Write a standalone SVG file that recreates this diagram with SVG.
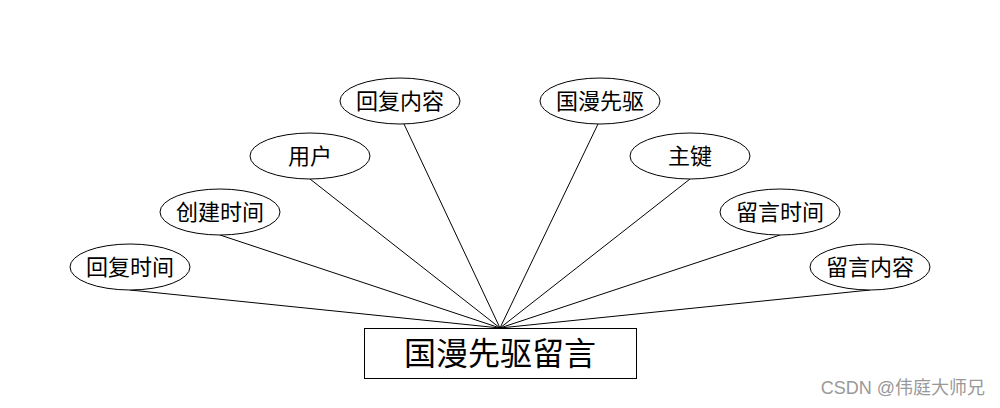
<svg xmlns="http://www.w3.org/2000/svg" width="1000" height="408" viewBox="0 0 1000 408">
<style>
.attr ellipse{fill:#fff;stroke:#000;stroke-width:1}
.lbl{font-family:"Noto Sans CJK SC","Microsoft YaHei",sans-serif;font-size:22px;fill:#000;text-anchor:middle;dominant-baseline:central}
.ent rect{fill:#fff;stroke:#000;stroke-width:1}
.big{font-family:"Noto Sans CJK SC",sans-serif;font-size:32px;fill:#000;text-anchor:middle;dominant-baseline:central}
#connectors line{stroke:#000;stroke-width:1}
</style>
<rect width="1000" height="408" fill="#fff"/>
<g id="connectors">
<line x1="130" y1="290" x2="500" y2="328"/>
<line x1="220" y1="235" x2="500" y2="328"/>
<line x1="310" y1="179" x2="500" y2="328"/>
<line x1="404" y1="124" x2="500" y2="328"/>
<line x1="598" y1="124" x2="500" y2="328"/>
<line x1="690" y1="179" x2="500" y2="328"/>
<line x1="780" y1="235" x2="500" y2="328"/>
<line x1="870" y1="290" x2="500" y2="328"/>
</g>
<g id="n1" class="attr"><ellipse cx="130" cy="267" rx="60" ry="23"/><text class="lbl" x="130" y="265">回复时间</text></g>
<g id="n2" class="attr"><ellipse cx="220" cy="212" rx="60" ry="23"/><text class="lbl" x="220" y="210">创建时间</text></g>
<g id="n3" class="attr"><ellipse cx="310" cy="156" rx="60" ry="23"/><text class="lbl" x="310" y="154">用户</text></g>
<g id="n4" class="attr"><ellipse cx="400" cy="101" rx="60" ry="23"/><text class="lbl" x="400" y="99">回复内容</text></g>
<g id="n5" class="attr"><ellipse cx="600" cy="101" rx="60" ry="23"/><text class="lbl" x="600" y="99">国漫先驱</text></g>
<g id="n6" class="attr"><ellipse cx="690" cy="156" rx="60" ry="23"/><text class="lbl" x="690" y="154">主键</text></g>
<g id="n7" class="attr"><ellipse cx="780" cy="212" rx="60" ry="23"/><text class="lbl" x="780" y="210">留言时间</text></g>
<g id="n8" class="attr"><ellipse cx="870" cy="267" rx="60" ry="23"/><text class="lbl" x="870" y="265">留言内容</text></g>
<g id="entity" class="ent"><rect x="364.5" y="328.5" width="272" height="50"/><text class="big" x="500" y="351">国漫先驱留言</text></g>
<text x="985" y="388" font-family="'Liberation Sans','Noto Sans CJK SC',sans-serif" font-size="18" fill="#999" text-anchor="end" dominant-baseline="central">CSDN @伟庭大师兄</text>
</svg>
